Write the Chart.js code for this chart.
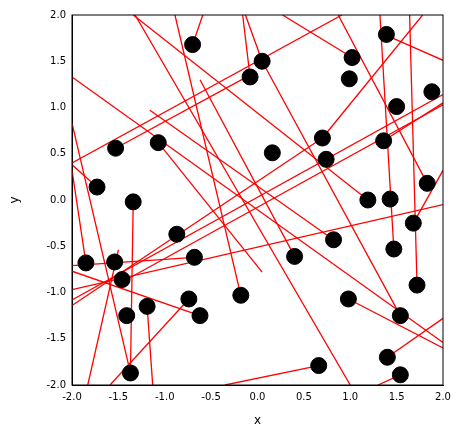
<!DOCTYPE html>
<html><head><script src="https://cdn.jsdelivr.net/npm/chart.js"></script>
<style>body{margin:0;background:#fff}#w{width:463px;height:438px}</style></head>
<body><div id="w"><canvas id="c"></canvas></div>
<script>
const pointsX=[-0.70,0.05,-0.08,1.02,0.99,1.39,1.50,1.88,-1.53,-1.07,0.70,0.74,0.16,1.36,-1.73,-1.34,1.19,1.43,1.83,1.68,-0.87,-0.68,-1.85,-1.54,-1.46,0.82,0.40,1.47,1.72,-0.74,-0.62,-0.18,-1.19,-1.41,0.98,1.54,-1.37,0.66,1.40,1.54];
const pointsY=[1.68,1.50,1.33,1.54,1.31,1.79,1.01,1.17,0.56,0.62,0.67,0.44,0.51,0.64,0.14,-0.02,0.00,0.01,0.18,-0.25,-0.37,-0.62,-0.68,-0.67,-0.86,-0.43,-0.61,-0.53,-0.92,-1.07,-1.25,-1.03,-1.15,-1.25,-1.07,-1.25,-1.87,-1.79,-1.70,-1.89];
// each line: [x1,y1,x2,y2]
const lineSegs=[
[-2,1.33,2,-1.54],[-0.89,2,-0.18,-1.03],[-2,0.40,0.91,2],[-1.53,0.56,-0.08,1.35],
[-2,0.83,-1.37,-1.87],[-2,0.32,-1.85,-0.68],[-1.34,2,1.19,0],[0.27,2,1.02,1.54],
[0.87,2,1.83,0.18],[1.32,2,1.47,-0.53],[1.64,2,1.72,-0.92],[1.78,2,0.70,0.67],
[1.39,1.78,2,1.51],[-2,-1.08,2,1.14],[-1.41,-0.86,2,1.03],[-2,-0.71,-0.68,-0.62],
[-2,-0.77,-0.62,-1.25],[-2,-1.14,0.70,0.67],[-2,-0.97,2,-0.05],[-1.59,-2,-0.74,-1.07],
[-1.34,-0.02,-1.37,-1.87],[-1.50,-0.54,-1.83,-2],[-1.19,-1.15,-1.13,-2],[-1.32,2,1.00,-2],
[-1.07,0.62,0.05,-0.78],[-0.35,-2,0.66,-1.79],[0.98,-1.07,2,-1.60],[1.40,-1.70,2,-1.28],
[1.30,-2,1.54,-1.89],[1.68,-0.25,2,0.32],[-0.62,1.30,0.40,-0.61],[0.05,1.50,1.54,-1.25],
[-1.16,0.97,0.82,-0.43],[-0.16,2,-0.08,1.33],[-0.13,2,0.05,1.50],[-2,0.38,-1.73,0.14],
[1.36,0.64,2,1.05],[-0.70,1.68,-0.59,2]
];
const ticks=[-2.0,-1.5,-1.0,-0.5,0.0,0.5,1.0,1.5,2.0];
const datasets=lineSegs.map(s=>({type:'line',data:[{x:s[0],y:s[1]},{x:s[2],y:s[3]}],borderColor:'#ff0000',borderWidth:1.3,pointRadius:0,fill:false,order:2}));
datasets.push({type:'scatter',data:pointsX.map((x,i)=>({x,y:pointsY[i]})),backgroundColor:'#000',borderColor:'#000',pointRadius:8,order:1});
const font={family:'DejaVu Sans',size:10};
new Chart(document.getElementById('c'),{
 data:{datasets},
 options:{responsive:true,maintainAspectRatio:false,animation:false,
  layout:{padding:{left:8,right:20,top:15,bottom:0}},
  plugins:{legend:{display:false},tooltip:{enabled:false}},
  scales:{
   x:{type:'linear',min:-2,max:2,afterBuildTicks:a=>{a.ticks=ticks.map(v=>({value:v}))},
      ticks:{color:'#000',font,callback:v=>v.toFixed(1),maxRotation:0,padding:2},
      grid:{display:false,drawTicks:true,tickLength:4,tickColor:'#000'},border:{color:'#000'},
      title:{display:true,text:'x',color:'#000',font:{family:'DejaVu Sans',size:12},padding:{top:0,bottom:10}},
      afterFit:a=>{a.height=53}},
   y:{type:'linear',min:-2,max:2,afterBuildTicks:a=>{a.ticks=ticks.map(v=>({value:v}))},
      ticks:{color:'#000',font,callback:v=>v.toFixed(1),padding:2},
      grid:{display:false,tickLength:4,tickColor:'#000'},border:{color:'#000'},
      title:{display:true,text:'y',color:'#000',font:{family:'DejaVu Sans',size:12},padding:{top:0,bottom:6}},
      afterFit:a=>{a.width=64}}
  }},
 plugins:[{id:'frame',afterDraw(c){const a=c.chartArea,x=c.ctx;x.save();x.strokeStyle='#000';x.lineWidth=1;x.strokeRect(a.left,a.top,a.right-a.left,a.bottom-a.top);x.restore();}}]
});
</script></body></html>
